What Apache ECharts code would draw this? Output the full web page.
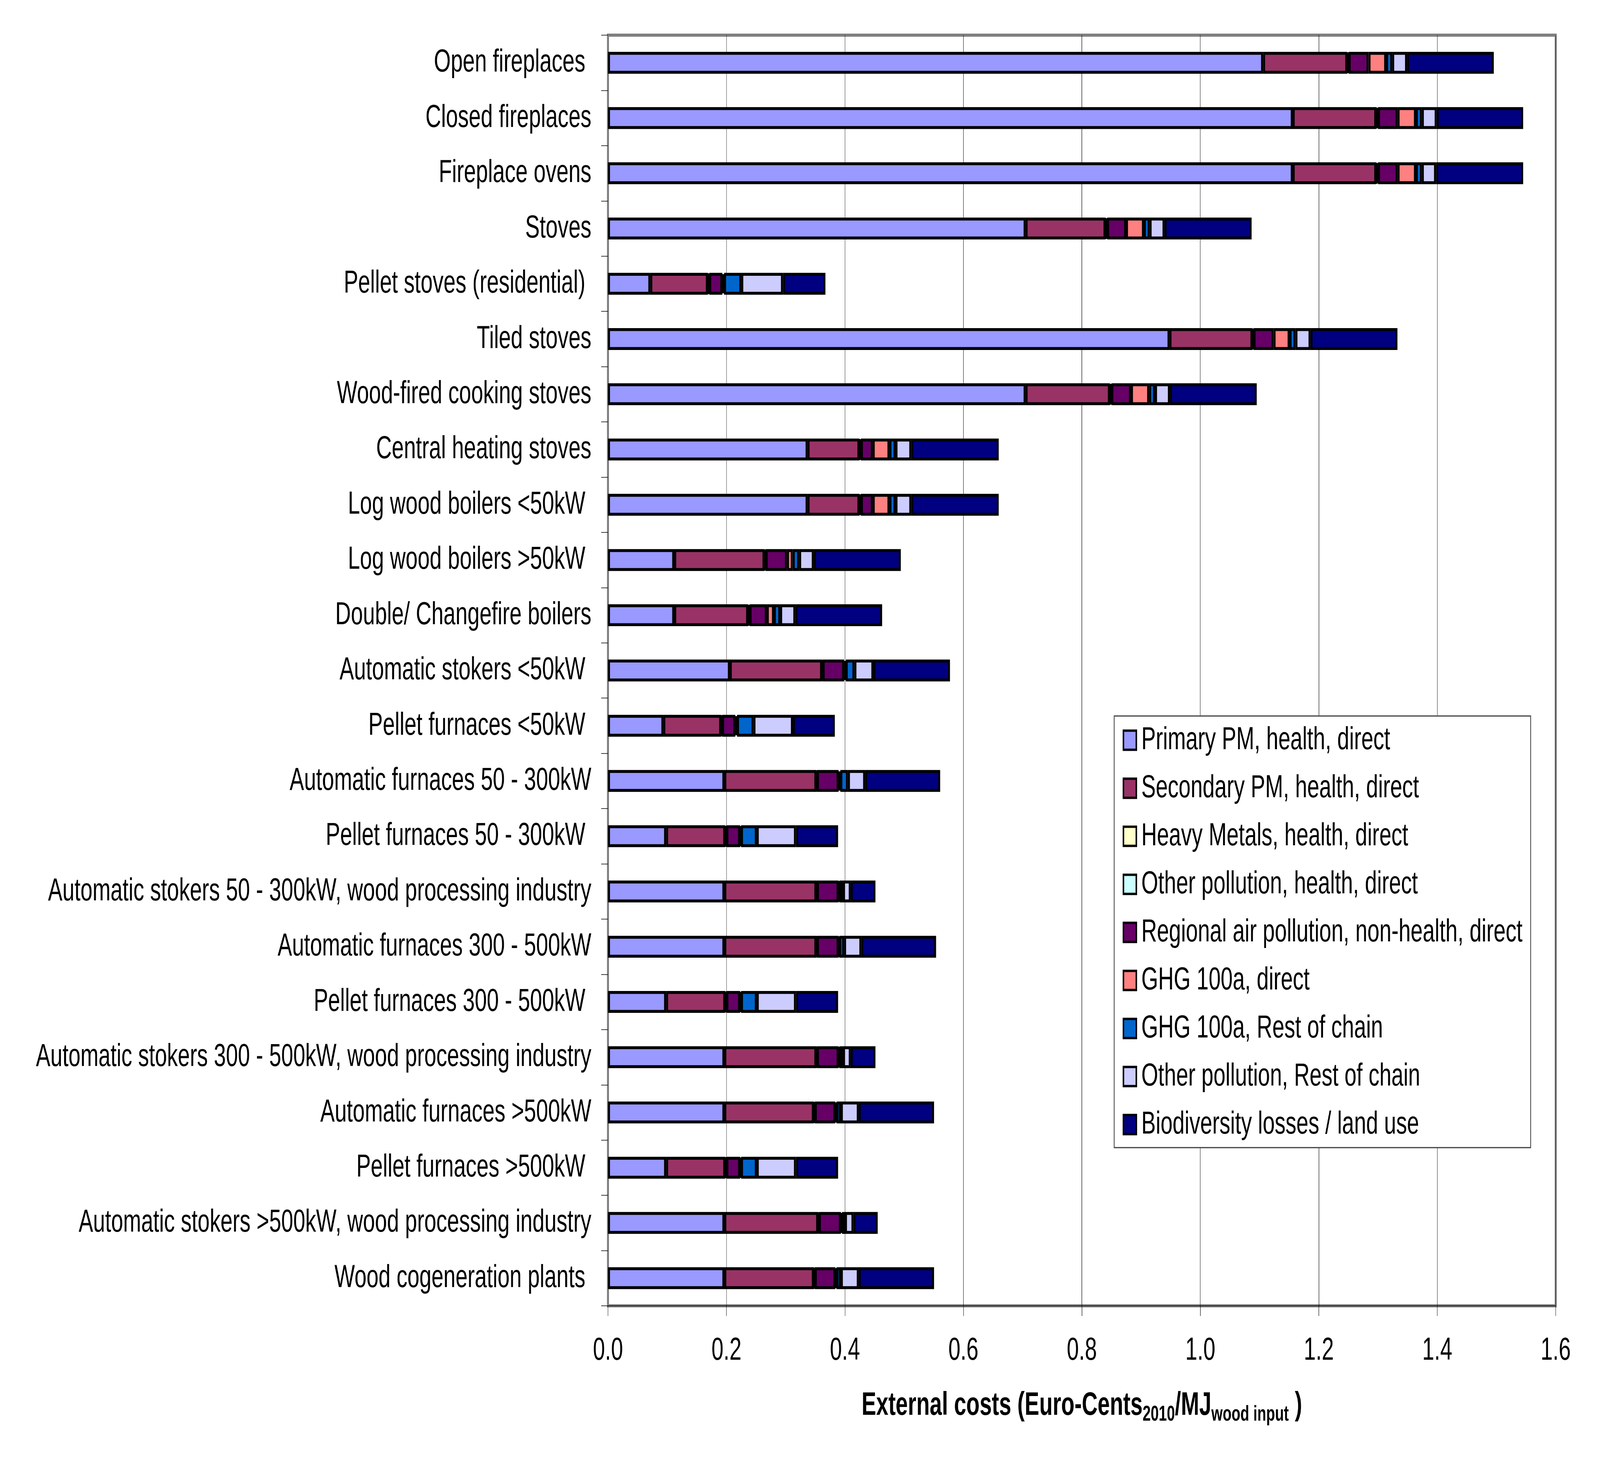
<!DOCTYPE html>
<html>
<head>
<meta charset="utf-8">
<script src="https://cdn.jsdelivr.net/npm/echarts@6/dist/echarts.min.js"></script>
<style>html,body{margin:0;padding:0;background:#fff;overflow:hidden}#c{position:absolute;left:0;top:0;width:6066px;height:3771px;transform-origin:0 0}</style>
</head>
<body>
<div id="c"></div>
<script>
const categories = [
  "Open fireplaces ", "Closed fireplaces", "Fireplace ovens", "Stoves",
  "Pellet stoves (residential) ", "Tiled stoves", "Wood-fired cooking stoves",
  "Central heating stoves", "Log wood boilers <50kW ", "Log wood boilers >50kW ",
  "Double/ Changefire boilers", "Automatic stokers <50kW ", "Pellet furnaces <50kW ",
  "Automatic furnaces 50 - 300kW", "Pellet furnaces 50 - 300kW ",
  "Automatic stokers 50 - 300kW, wood processing industry",
  "Automatic furnaces 300 - 500kW", "Pellet furnaces 300 - 500kW ",
  "Automatic stokers 300 - 500kW, wood processing industry",
  "Automatic furnaces >500kW", "Pellet furnaces >500kW ",
  "Automatic stokers >500kW, wood processing industry", "Wood cogeneration plants "
];
const primaryPM   = [1.106,1.156,1.156,0.705,0.0714,0.948,0.705,0.337,0.337,0.1118,0.1118,0.2057,0.0934,0.1964,0.0981,0.1964,0.1964,0.0981,0.1964,0.1964,0.0981,0.1964,0.1964];
const secondaryPM = [0.142,0.141,0.141,0.135,0.0971,0.140,0.1422,0.0875,0.0875,0.1525,0.1248,0.1557,0.0976,0.1554,0.0998,0.1554,0.1554,0.0998,0.1554,0.1511,0.0998,0.1584,0.1511];
const heavyMetals = [0.001,0.001,0.001,0.001,0.001,0.001,0.001,0.001,0.001,0.001,0.001,0.0005,0.001,0.0005,0.001,0.0005,0.0005,0.001,0.0005,0.001,0.001,0.0007,0.001];
const otherHealth = [0.0015,0.002,0.002,0.0018,0.0015,0.001,0.0018,0.0015,0.0015,0.001,0.0015,0.0005,0.0007,0.0005,0.001,0.0005,0.0005,0.001,0.0005,0.0007,0.001,0.0006,0.0007];
const regionalAir = [0.0335,0.033,0.033,0.0318,0.022,0.0337,0.033,0.020,0.020,0.0359,0.0291,0.0361,0.0222,0.0365,0.0231,0.0365,0.0365,0.0231,0.0365,0.0346,0.0231,0.0371,0.0346];
const ghgDirect   = [0.0297,0.031,0.031,0.0302,0.003,0.027,0.0306,0.0282,0.0282,0.0098,0.0119,0.003,0.003,0.003,0.0017,0.0013,0.0013,0.0017,0.0013,0.002,0.0017,0.002,0.002];
const ghgRest     = [0.0103,0.010,0.010,0.0097,0.029,0.0099,0.010,0.0102,0.0102,0.0107,0.0106,0.0145,0.0277,0.0128,0.0265,0.0062,0.0081,0.0265,0.0062,0.0074,0.0265,0.005,0.0074];
const otherRest   = [0.025,0.025,0.024,0.025,0.0704,0.0254,0.025,0.0266,0.0266,0.0247,0.0256,0.032,0.0666,0.029,0.0661,0.013,0.029,0.0661,0.013,0.0302,0.0661,0.0141,0.0302];
const biodiversity= [0.1464,0.146,0.147,0.1471,0.0716,0.1468,0.1466,0.1477,0.1477,0.1469,0.1465,0.1294,0.0708,0.1267,0.0712,0.0418,0.1262,0.0712,0.0418,0.1271,0.0712,0.0411,0.1271];

const seriesNames = ["Primary PM, health, direct","Secondary PM, health, direct","Heavy Metals, health, direct","Other pollution, health, direct","Regional air pollution, non-health, direct","GHG 100a, direct","GHG 100a, Rest of chain","Other pollution, Rest of chain","Biodiversity losses / land use"];
const seriesData = [primaryPM, secondaryPM, heavyMetals, otherHealth, regionalAir, ghgDirect, ghgRest, otherRest, biodiversity];
const seriesColors = ["#9999FF","#993366","#FFFFCC","#CCFFFF","#660066","#FF8080","#0066CC","#CCCCFF","#000080"];
const xTicks = [0, 0.2, 0.4, 0.6, 0.8, 1.0, 1.2, 1.4, 1.6];

const FONT = "'Liberation Sans', Arial, sans-serif";
const el = document.getElementById('c');
const VW = window.innerWidth || 6066;
const VH = window.innerHeight || 3771;
const sx = VW / 6066, sy = VH / 3771;
if (Math.abs(sx - 1) > 0.001 || Math.abs(sy - 1) > 0.001) {
  el.style.transform = 'scale(' + sx + ',' + sy + ')';
}
const chart = echarts.init(el, null, {width: 6066, height: 3771, renderer: 'canvas', devicePixelRatio: 1});
chart.setOption({
  animation: false,
  backgroundColor: '#fff',
  grid: {left: 2305, top: 90, width: 3593, height: 3253, show: true, borderColor: '#808080', borderWidth: 8, backgroundColor: 'transparent'},
  legend: {
    orient: 'vertical', left: 4224, top: 1833,
    padding: [21, 31, 18, 32], itemGap: 41, itemWidth: 49, itemHeight: 49,
    backgroundColor: '#fff', borderColor: '#404040', borderWidth: 3,
    selectedMode: false, icon: 'rect',
    itemStyle: {borderColor: '#000', borderWidth: 6},
    textStyle: {fontFamily: FONT, fontSize: 82, color: '#000', padding: [0, 0, 0, 14]},
    data: seriesNames
  },
  xAxis: {
    type: 'value', min: xTicks[0], max: xTicks[xTicks.length - 1], interval: 0.2,
    axisLine: {show: true, lineStyle: {color: '#000', width: 1.5}},
    axisTick: {show: true, length: 26, lineStyle: {color: '#000', width: 1.5}},
    splitLine: {show: true, lineStyle: {color: '#000', width: 1.3}},
    axisLabel: {fontFamily: FONT, fontSize: 82, color: '#000', margin: 74, formatter: v => v.toFixed(1)},
    name: '{a|External costs (Euro-Cents}{s|2010}{a|/MJ}{s|wood input}{a| )}',
    nameLocation: 'middle', nameGap: 206,
    nameTextStyle: {
      rich: {
        a: {fontFamily: FONT, fontSize: 83, fontWeight: 'bold', color: '#000', lineHeight: 100},
        s: {fontFamily: FONT, fontSize: 55, fontWeight: 'bold', color: '#000', lineHeight: 50, verticalAlign: 'bottom'}
      }
    }
  },
  yAxis: {
    type: 'category', data: categories, inverse: true,
    axisLine: {show: true, lineStyle: {color: '#808080', width: 8}},
    axisTick: {show: true, length: 26, lineStyle: {color: '#000', width: 1.5}},
    axisLabel: {fontFamily: FONT, fontSize: 82, color: '#000', margin: 63, interval: 0}
  },
  series: seriesNames.map((n, i) => ({
    name: n, type: 'bar', stack: 'total', barWidth: 56,
    itemStyle: {color: seriesColors[i], borderColor: '#000', borderWidth: 7.5},
    data: seriesData[i]
  }))
});
</script>
</body>
</html>
